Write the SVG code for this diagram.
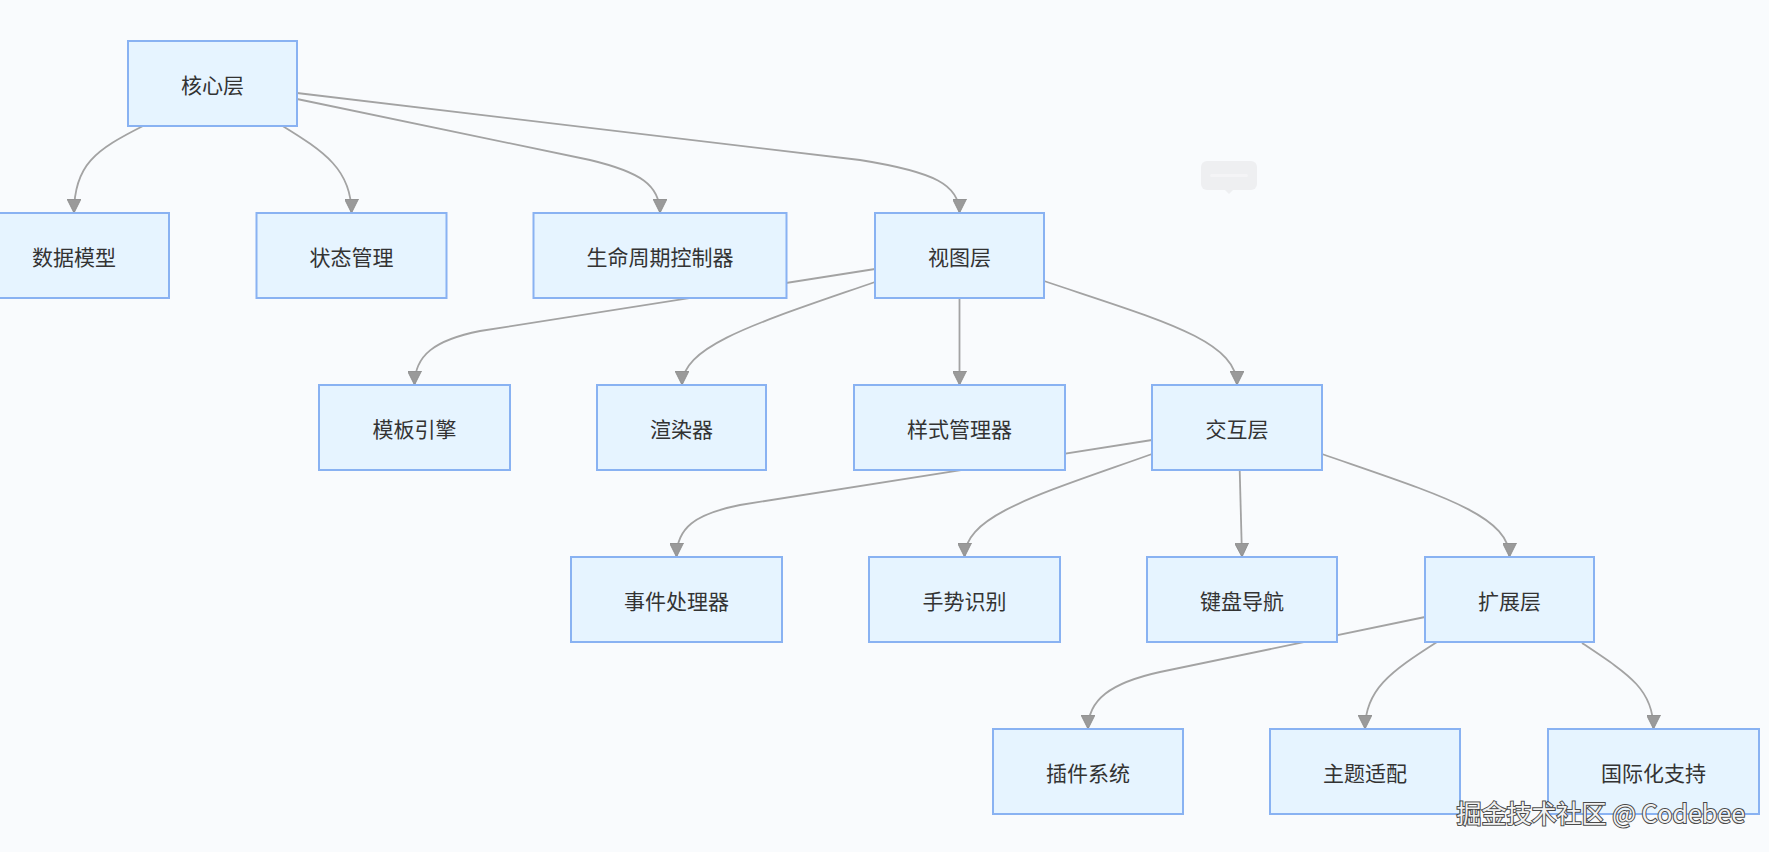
<svg xmlns="http://www.w3.org/2000/svg" width="1769" height="852" viewBox="0 0 1769 852">
<defs>
<style>
.node rect{fill:#e6f4ff;stroke:#89b2f2;stroke-width:2}
.node text{font-family:"Noto Sans CJK SC","Noto Sans",sans-serif;font-size:21px;fill:#333;text-anchor:middle;dominant-baseline:central}
.edge{fill:none;stroke:#a3a3a3;stroke-width:1.8;marker-end:url(#arrow)}
.wm{font-family:"Noto Sans CJK SC","Noto Sans",sans-serif;font-size:25px;fill:#f2f2f2;stroke:#4a4a4a;stroke-width:2;paint-order:stroke fill;text-anchor:end}
</style>
<marker id="arrow" viewBox="0 0 10 10" refX="10" refY="5" markerWidth="14" markerHeight="14" markerUnits="userSpaceOnUse" orient="auto">
<path d="M0,0 L10,5 L0,10 z" fill="#9a9a9a" stroke="#8a8a8a" stroke-width="0.6"/>
</marker>
</defs>
<rect x="0" y="0" width="1769" height="852" fill="#f9fbfd"/>
<g id="tooltip">
<rect x="1201" y="161" width="56" height="29" rx="6" fill="#eeeff1"/>
<path d="M1225,190 L1229,194 L1233,190 z" fill="#eeeff1"/>
<rect x="1210" y="174" width="38" height="3" rx="1.5" fill="#f4f4f6"/>
</g>
<g id="connectors">
<path class="edge" d="M145,125 C95,150 74,165 74,213"/>
<path class="edge" d="M281,125 C325,152 351.5,170 351.5,213"/>
<path class="edge" d="M297,99 L590,160 C640,172 660,185 660,213"/>
<path class="edge" d="M297,93 L860,160 C935,172 959.5,185 959.5,213"/>
<path class="edge" d="M875,269 L480,331 C435,340 414.5,355 414.5,385"/>
<path class="edge" d="M875,282 C760,322 682,345 682,385"/>
<path class="edge" d="M959.5,298 L959.5,385"/>
<path class="edge" d="M1044,281 C1160,320 1237,340 1237,385"/>
<path class="edge" d="M1152,440 L740,505 C695,514 676.5,528 676.5,557"/>
<path class="edge" d="M1152,454 C1040,494 964.5,515 964.5,557"/>
<path class="edge" d="M1239.7,470 L1242,557"/>
<path class="edge" d="M1322,454 C1440,495 1509.5,515 1509.5,557"/>
<path class="edge" d="M1425,617 L1160,672 C1110,683 1088,700 1088,729"/>
<path class="edge" d="M1437,642 C1390,672 1365,690 1365,729"/>
<path class="edge" d="M1582,643 C1630,675 1653.5,690 1653.5,729"/>
</g>
<g id="core" class="node"><rect x="128" y="41" width="169" height="85"/><text x="212.5" y="83.5">核心层</text></g>
<g id="data" class="node"><rect x="-21" y="213" width="190" height="85"/><text x="74" y="255.5">数据模型</text></g>
<g id="state" class="node"><rect x="256.5" y="213" width="190" height="85"/><text x="351.5" y="255.5">状态管理</text></g>
<g id="lifecycle" class="node"><rect x="533.5" y="213" width="253" height="85"/><text x="660" y="255.5">生命周期控制器</text></g>
<g id="view" class="node"><rect x="875" y="213" width="169" height="85"/><text x="959.5" y="255.5">视图层</text></g>
<g id="template" class="node"><rect x="319" y="385" width="191" height="85"/><text x="414.5" y="427.5">模板引擎</text></g>
<g id="renderer" class="node"><rect x="597" y="385" width="169" height="85"/><text x="681.5" y="427.5">渲染器</text></g>
<g id="style" class="node"><rect x="854" y="385" width="211" height="85"/><text x="959.5" y="427.5">样式管理器</text></g>
<g id="interact" class="node"><rect x="1152" y="385" width="170" height="85"/><text x="1237" y="427.5">交互层</text></g>
<g id="event" class="node"><rect x="571" y="557" width="211" height="85"/><text x="676.5" y="599.5">事件处理器</text></g>
<g id="gesture" class="node"><rect x="869" y="557" width="191" height="85"/><text x="964.5" y="599.5">手势识别</text></g>
<g id="keyboard" class="node"><rect x="1147" y="557" width="190" height="85"/><text x="1242" y="599.5">键盘导航</text></g>
<g id="extension" class="node"><rect x="1425" y="557" width="169" height="85"/><text x="1509.5" y="599.5">扩展层</text></g>
<g id="plugin" class="node"><rect x="993" y="729" width="190" height="85"/><text x="1088" y="771.5">插件系统</text></g>
<g id="theme" class="node"><rect x="1270" y="729" width="190" height="85"/><text x="1365" y="771.5">主题适配</text></g>
<g id="i18n" class="node"><rect x="1548" y="729" width="211" height="85"/><text x="1653.5" y="771.5">国际化支持</text></g>
<text class="wm" x="1745" y="823">掘金技术社区 @ Codebee</text>
</svg>
